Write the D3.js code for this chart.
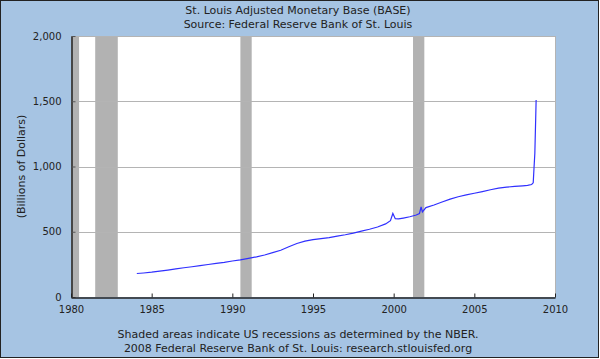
<!DOCTYPE html>
<html><head><meta charset="utf-8">
<script src="https://cdn.jsdelivr.net/npm/d3@7"></script>
<style>body{margin:0;padding:0;background:#fff}svg{display:block}</style>
</head><body>
<svg id="chart" width="600" height="359"></svg>
<script>
const years = [1984.08,1984.5,1985.0,1985.5,1986.0,1986.5,1987.0,1987.5,1988.0,1988.5,1989.0,1989.5,1990.0,1990.5,1991.0,1991.5,1992.0,1992.5,1993.0,1993.5,1994.0,1994.5,1995.0,1995.5,1996.0,1996.5,1997.0,1997.5,1998.0,1998.5,1999.0,1999.5,1999.8,1999.95,2000.1,2000.3,2000.6,2001.0,2001.4,2001.6,2001.7,2001.78,2002.0,2002.5,2003.0,2003.5,2004.0,2004.5,2005.0,2005.5,2006.0,2006.5,2007.0,2007.5,2008.0,2008.3,2008.55,2008.65,2008.7,2008.75,2008.8,2008.83];
const values = [180,184,190,198,206,215,224,232,241,249,258,266,276,284,296,308,322,340,358,385,410,428,440,448,455,466,477,490,505,519,536,560,585,640,600,598,605,615,628,640,690,652,685,705,728,750,768,782,795,808,822,834,842,848,852,855,862,875,990,1100,1350,1510];
const recessions = [[1980.0,1980.5],[1981.5,1982.9],[1990.5,1991.2],[2001.2,2001.9]];
const yTicks = [0,500,1000,1500,2000];
const xTicks = [1980,1985,1990,1995,2000,2005,2010];
const titleLines = ["St. Louis Adjusted Monetary Base (BASE)","Source: Federal Reserve Bank of St. Louis"];
const footLines = ["Shaded areas indicate US recessions as determined by the NBER.","2008 Federal Reserve Bank of St. Louis: research.stlouisfed.org"];

const svg = d3.select("#chart");
const W = 600, H = 359;
const font = "DejaVu Sans, Verdana, sans-serif";
svg.append("rect").attr("x",0.5).attr("y",0.5).attr("width",W-2).attr("height",H-2)
  .attr("fill","#a6c4e3").attr("stroke","#222").attr("stroke-width",1);

const L = 71, R = 555, T = 36, B = 297;
const x = d3.scaleLinear().domain([1980,2010]).range([L,R]);
const y = d3.scaleLinear().domain([0,2000]).range([B,T]);

svg.append("rect").attr("x",L).attr("y",T).attr("width",R-L).attr("height",B-T).attr("fill","#fff");

svg.selectAll(".rec").data(recessions).enter().append("rect")
  .attr("x",d=>x(d[0])).attr("y",T).attr("width",d=>x(d[1])-x(d[0])).attr("height",B-T)
  .attr("fill","#b2b2b2");

// gridlines
svg.selectAll(".grid").data(yTicks.filter(v=>v>0)).enter().append("line")
  .attr("x1",L).attr("x2",R).attr("y1",d=>Math.round(y(d))+0.5).attr("y2",d=>Math.round(y(d))+0.5)
  .attr("stroke","#b4b4b4").attr("stroke-width",1);
// right border
svg.append("line").attr("x1",R+0.5).attr("x2",R+0.5).attr("y1",T).attr("y2",B).attr("stroke","#b4b4b4");

// line
const line = d3.line().x((d,i)=>x(years[i])).y(d=>y(d));
svg.append("path").datum(values).attr("d",line).attr("fill","none")
  .attr("stroke","#3030ff").attr("stroke-width",1.2);

// y axis
const yAxis = d3.axisLeft(y).tickValues(yTicks).tickFormat(d3.format(",")).tickSizeInner(-4).tickSizeOuter(0).tickPadding(10);
const gy = svg.append("g").attr("transform",`translate(${L+0.5},0)`).call(yAxis);
gy.select(".domain").attr("stroke","#222").attr("stroke-width",1.5);
gy.selectAll(".tick line").attr("stroke","#555");
gy.selectAll("text").attr("font-family",font).attr("font-size",10).attr("fill","#222");

// x axis
const xAxis = d3.axisBottom(x).tickValues(xTicks).tickFormat(d3.format("d")).tickSizeInner(-4).tickSizeOuter(0).tickPadding(8);
const gx = svg.append("g").attr("transform",`translate(0,${B+0.5})`).call(xAxis);
gx.select(".domain").attr("stroke","#222").attr("stroke-width",1.5);
gx.selectAll(".tick line").attr("stroke","#222");
gx.selectAll("text").attr("font-family",font).attr("font-size",10).attr("fill","#222");

// titles
svg.selectAll(".title").data(titleLines).enter().append("text")
  .attr("x",(L+R)/2-15).attr("y",(d,i)=>14+i*14).attr("text-anchor","middle")
  .attr("font-family",font).attr("font-size",11).attr("fill","#222").text(d=>d);
svg.selectAll(".foot").data(footLines).enter().append("text")
  .attr("x",(L+R)/2-15).attr("y",(d,i)=>338+i*14).attr("text-anchor","middle")
  .attr("font-family",font).attr("font-size",11).attr("fill","#222").text(d=>d);
svg.append("text").attr("transform",`translate(25,${(T+B)/2}) rotate(-90)`)
  .attr("text-anchor","middle").attr("font-family",font).attr("font-size",11).attr("fill","#222")
  .text("(Billions of Dollars)");
</script>
</body></html>
